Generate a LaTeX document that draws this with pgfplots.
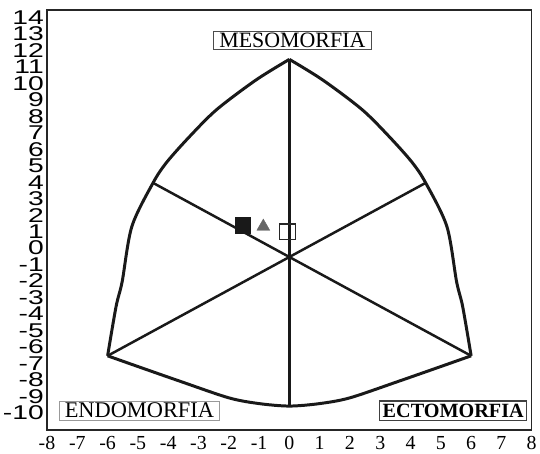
\documentclass[border=0pt]{standalone}
\usepackage{fontspec}
\setmainfont{Liberation Serif}
\newfontfamily\arialf{Liberation Sans}
\usepackage{pgfplots}
\pgfplotsset{compat=1.18}

\tikzset{
  somaline/.style={line width=3pt, black!90, smooth, tension=0.5, no markers},
  radial/.style={line width=2.5pt, black!90, no markers},
  tag/.style={fill=white, font=\fontsize{22.5}{22.5}\selectfont, inner xsep=5pt, inner ysep=2pt}
}

\begin{document}
\begin{tikzpicture}
\begin{axis}[
  scale only axis, width=487pt, height=422pt,
  xmin=-8, xmax=8, ymin=-10.5, ymax=15,
  xtick={-8,...,8}, ytick={-10,...,14},
  major tick length=0pt,
  /pgf/number format/assume math mode=true,
  xticklabel style={font=\fontsize{20}{20}\selectfont, yshift=-3pt},
  yticklabel={\scalebox{1.42}[1]{\pgfmathprintnumber{\tick}}},
  yticklabel style={font=\arialf\fontsize{20}{20}\selectfont, yshift=9pt, inner xsep=3pt},
  axis line style={line width=1.3pt, black!85},
  clip=false
]
% radial axes of the somatochart
\addplot[radial] coordinates {(0,12) (0,-9)};
\addplot[radial] coordinates {(-4.5,4.5) (0,0) (6,-6)};
\addplot[radial] coordinates {(4.5,4.5) (0,0) (-6,-6)};

% outline arcs
\addplot[somaline] coordinates {(-6,-6) (-5.72,-3) (-5.52,-1.5) (-5.2,1.85) (-4.5,4.5) (-4.05,5.75) (-3.3,7.3) (-2.4,8.95) (-1.1,10.75) (0,12)};
\addplot[somaline] coordinates {(0,12) (1.1,10.75) (2.4,8.95) (3.3,7.3) (4.05,5.75) (4.5,4.5) (5.2,1.85) (5.52,-1.5) (5.72,-3) (6,-6)};
\addplot[somaline] coordinates {(-6,-6) (-5,-6.65) (-3.6,-7.55) (-2,-8.55) (-1,-8.9) (0,-9.05) (1,-8.9) (2,-8.55) (3.6,-7.55) (5,-6.65) (6,-6)};

% group means
\addplot[only marks, mark=square*, mark size=8pt, black!90] coordinates {(-1.54,1.95)};
\addplot[only marks, mark=triangle*, mark size=7.5pt, black!60] coordinates {(-0.86,1.85)};
\addplot[only marks, mark=square, mark size=7.8pt, mark options={line width=1.3pt}, black!85] coordinates {(-0.06,1.53)};

\node[tag, draw=black!70, line width=0.9pt, font=\fontsize{22}{22}\selectfont, inner xsep=6pt] at (axis cs:0.1,13.15) {MESOMORFIA};
\node[tag, draw=black!40, line width=0.9pt] at (axis cs:-4.95,-9.33) {ENDOMORFIA};
\node[tag, draw=black!75, line width=1.4pt, font=\fontsize{20.3}{20.3}\selectfont\bfseries, inner xsep=3pt, inner ysep=3pt] at (axis cs:5.41,-9.33) {ECTOMORFIA};

% white margin above the frame
\path (rel axis cs:0.5,1) ++(0pt,10pt);
\end{axis}
\end{tikzpicture}
\end{document}
